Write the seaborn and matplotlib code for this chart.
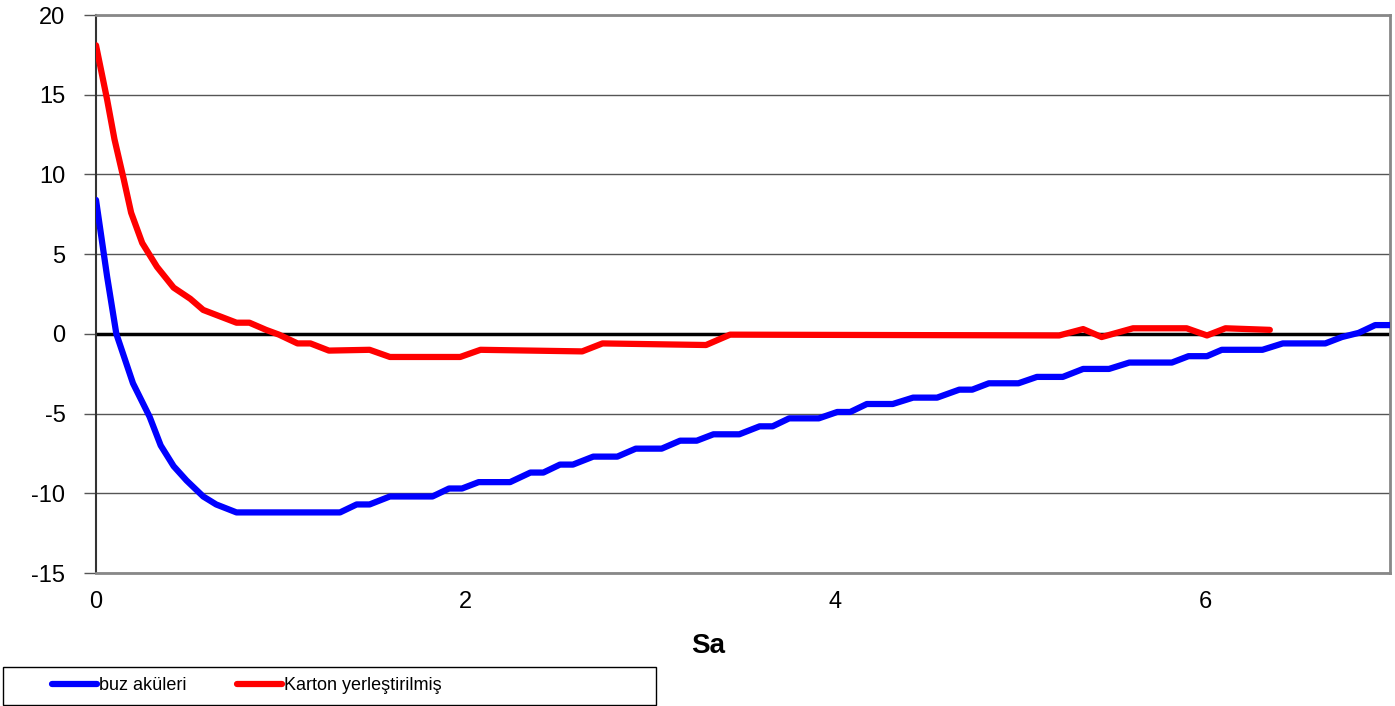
import pandas as pd
import seaborn as sns
import matplotlib.pyplot as plt
from matplotlib.patches import Rectangle

# buz aküleri
buz_t = [0.0, 0.03, 0.06, 0.11, 0.2, 0.29, 0.35, 0.42, 0.49, 0.58, 0.65, 0.76,
         1.0, 1.32, 1.41, 1.48, 1.59, 1.82, 1.91, 1.98, 2.07, 2.24, 2.35, 2.42,
         2.51, 2.58, 2.69, 2.82, 2.92, 3.06, 3.16, 3.25, 3.34, 3.48, 3.59, 3.66,
         3.75, 3.91, 4.01, 4.08, 4.17, 4.31, 4.42, 4.55, 4.67, 4.74, 4.83, 4.99,
         5.09, 5.23, 5.34, 5.48, 5.59, 5.82, 5.91, 6.01, 6.09, 6.31, 6.42, 6.65,
         6.74, 6.83, 6.92, 7.0]
buz_v = [8.4, 6.0, 3.6, 0.0, -3.1, -5.2, -7.0, -8.3, -9.2, -10.2, -10.7, -11.2,
         -11.2, -11.2, -10.7, -10.7, -10.2, -10.2, -9.7, -9.7, -9.3, -9.3, -8.7, -8.7,
         -8.2, -8.2, -7.7, -7.7, -7.2, -7.2, -6.7, -6.7, -6.3, -6.3, -5.8, -5.8,
         -5.3, -5.3, -4.9, -4.9, -4.4, -4.4, -4.0, -4.0, -3.5, -3.5, -3.1, -3.1,
         -2.7, -2.7, -2.2, -2.2, -1.8, -1.8, -1.4, -1.4, -1.0, -1.0, -0.6, -0.6,
         -0.2, 0.06, 0.55, 0.55]

# Karton yerleştirilmiş
karton_t = [0.0, 0.06, 0.10, 0.15, 0.19, 0.25, 0.33, 0.42, 0.51, 0.58, 0.67, 0.76,
            0.83, 0.92, 0.99, 1.09, 1.16, 1.26, 1.48, 1.59, 1.97, 2.08, 2.63, 2.74,
            3.30, 3.43, 5.21, 5.34, 5.44, 5.61, 5.90, 6.01, 6.11, 6.35]
karton_v = [18.1, 14.7, 12.2, 9.7, 7.6, 5.7, 4.2, 2.9, 2.2, 1.5, 1.1, 0.7,
            0.7, 0.25, -0.05, -0.6, -0.6, -1.05, -1.0, -1.45, -1.45, -1.0, -1.1, -0.6,
            -0.7, -0.05, -0.1, 0.3, -0.2, 0.35, 0.35, -0.1, 0.35, 0.25]

y_ticks = [-15, -10, -5, 0, 5, 10, 15, 20]
x_ticks = [0, 2, 4, 6]

sns.set_style("white")
plt.rcParams["font.family"] = ["Liberation Sans", "DejaVu Sans"]
plt.rcParams["axes.unicode_minus"] = False
plt.rcParams["text.color"] = "black"
plt.rcParams["xtick.color"] = "black"
plt.rcParams["ytick.color"] = "black"

fig = plt.figure(figsize=(13.95, 7.06), dpi=100)
ax = fig.add_axes([96 / 1395, 1 - 573 / 706, 1294 / 1395, 558 / 706])

for y in y_ticks:
    if y != 0:
        ax.axhline(y, color="#555555", linewidth=1, zorder=1)
ax.axhline(0, color="black", linewidth=2.5, zorder=2)

df_buz = pd.DataFrame({"Sa": buz_t, "deger": buz_v})
df_karton = pd.DataFrame({"Sa": karton_t, "deger": karton_v})

sns.lineplot(data=df_buz, x="Sa", y="deger", color="#0000ff", linewidth=4.5,
             sort=False, label="buz aküleri", ax=ax, zorder=3,
             solid_joinstyle="round", solid_capstyle="round")
sns.lineplot(data=df_karton, x="Sa", y="deger", color="#ff0000", linewidth=4.5,
             sort=False, label="Karton yerleştirilmiş", ax=ax, zorder=3,
             solid_joinstyle="round", solid_capstyle="round")

ax.set_xlim(0, 7)
ax.set_ylim(-15, 20)
ax.set_yticks(y_ticks)
ax.set_xticks(x_ticks)
ax.tick_params(axis="y", direction="out", length=9, width=1, color="#555555",
               labelcolor="black", labelsize=17, pad=13, left=True)
ax.tick_params(axis="x", length=0, labelsize=17, labelcolor="black", pad=13)
ax.set_ylabel("")
ax.set_xlabel("")

for side in ["top", "right", "bottom"]:
    ax.spines[side].set_color("#888888")
    ax.spines[side].set_linewidth(2)
ax.spines["left"].set_color("#333333")
ax.spines["left"].set_linewidth(1.5)

fig.text(708 / 1395, 1 - 646 / 706, "Sa", fontsize=20, fontweight="bold",
         color="black", ha="center", va="center")

leg = ax.legend(loc="center left", bbox_to_anchor=(36 / 1395, 1 - 686 / 706),
                bbox_transform=fig.transFigure, ncol=2, frameon=False, fontsize=13,
                handlelength=2.5, handletextpad=0.1, columnspacing=2.8)
for txt in leg.get_texts():
    txt.set_color("black")
fig.patches.append(Rectangle((3 / 1395, 1 - 705 / 706), 653 / 1395, 38 / 706,
                             transform=fig.transFigure, fill=False,
                             edgecolor="black", linewidth=1))

plt.savefig("out.png", dpi=100)
